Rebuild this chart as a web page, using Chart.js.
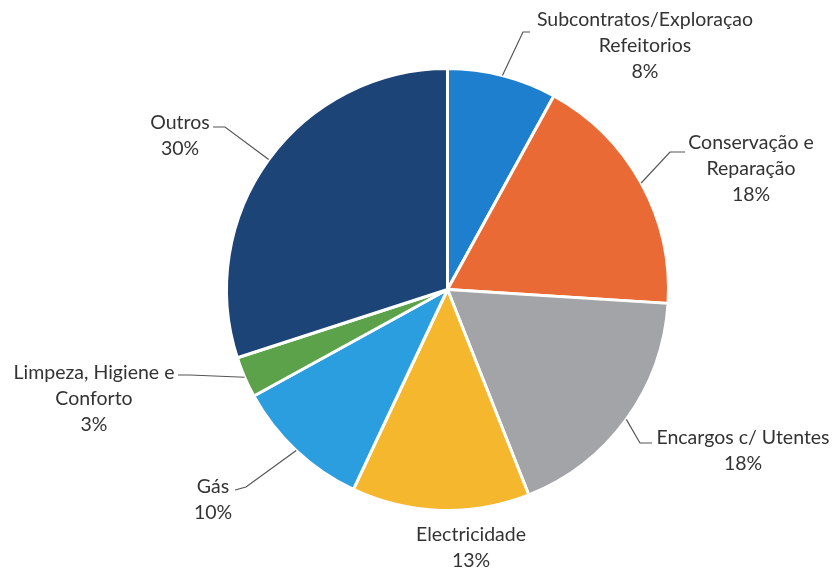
<!DOCTYPE html>
<html>
<head>
<meta charset="utf-8">
<script src="https://cdn.jsdelivr.net/npm/chart.js@4/dist/chart.umd.min.js"></script>
<style>
  html, body { margin: 0; padding: 0; background: #fff; }
  #wrap { width: 832px; height: 569px; position: relative; }
</style>
</head>
<body>
<div id="wrap"><canvas id="pie"></canvas></div>
<script>
const categories = [
    ['Subcontratos/Exploraçao', 'Refeitorios'],
    ['Conservação e', 'Reparação'],
    ['Encargos c/ Utentes'],
    ['Electricidade'],
    ['Gás'],
    ['Limpeza, Higiene e', 'Conforto'],
    ['Outros']
];
const shares = [8, 18, 18, 13, 10, 3, 30];
const sliceColors = ['#1f7fcf', '#ea6a35', '#a2a4a7', '#f4b72e', '#2b9ee0', '#5ca24b', '#1c4476'];

// where each label block sits and how its leader bends (layout only)
const labelLayout = [
    { x: 645, y: 20, elbow: [523, 32], end: [530, 32] },
    { x: 751, y: 143, elbow: [670, 152], end: [685, 152] },
    { x: 743, y: 438, elbow: [640, 443], end: [652, 443] },
    { x: 471, y: 535, elbow: null, end: null },
    { x: 213, y: 487, elbow: [246, 487], end: [235, 490] },
    { x: 94, y: 373, elbow: [190, 375], end: [178, 375] },
    { x: 180, y: 123, elbow: [225, 127], end: [213, 127] }
];

const LINE_H = 26;

// draws the text labels and the little leader lines
const outsideLabels = {
    id: 'outsideLabels',
    afterDatasetsDraw(chart) {
        const ctx = chart.ctx;
        const arcs = chart.getDatasetMeta(0).data;
        ctx.save();
        ctx.font = '19.5px Lato, "Open Sans", sans-serif';
        ctx.fillStyle = '#333333';
        ctx.textAlign = 'center';
        ctx.textBaseline = 'middle';
        arcs.forEach((arc, i) => {
            const lay = labelLayout[i];
            const lines = categories[i].concat([shares[i] + '%']);
            lines.forEach((t, k) => ctx.fillText(t, lay.x, lay.y + k * LINE_H));

            if (lay.elbow) {
                const mid = (arc.startAngle + arc.endAngle) / 2;
                const sx = arc.x + Math.cos(mid) * arc.outerRadius;
                const sy = arc.y + Math.sin(mid) * arc.outerRadius;
                ctx.strokeStyle = '#555555';
                ctx.lineWidth = 1.2;
                ctx.beginPath();
                ctx.moveTo(sx, sy);
                ctx.lineTo(lay.elbow[0], lay.elbow[1]);
                ctx.lineTo(lay.end[0], lay.end[1]);
                ctx.stroke();
            }
        });
        ctx.restore();
    }
};

new Chart(document.getElementById('pie'), {
    type: 'pie',
    data: {
        labels: categories.map(c => c.join(' ')),
        datasets: [{
            data: shares,
            backgroundColor: sliceColors,
            borderColor: '#ffffff',
            borderWidth: 3
        }]
    },
    options: {
        responsive: true,
        maintainAspectRatio: false,
        animation: false,
        layout: { padding: { top: 67, bottom: 57, left: 225, right: 162 } },
        plugins: {
            legend: { display: false },
            tooltip: { enabled: false }
        }
    },
    plugins: [outsideLabels]
});
</script>
</body>
</html>
